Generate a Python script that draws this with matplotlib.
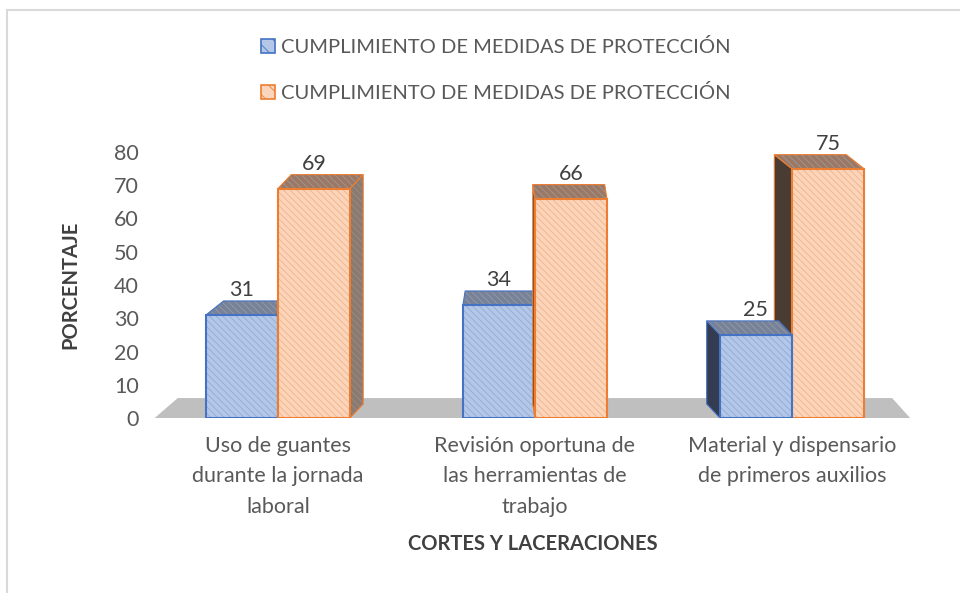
import matplotlib.pyplot as plt
from matplotlib.patches import Polygon, Rectangle, Patch

plt.rcParams['font.family'] = ['Lato', 'DejaVu Sans']
plt.rcParams['hatch.linewidth'] = 0.6

categories = ["Uso de guantes\ndurante la jornada\nlaboral",
              "Revisión oportuna de\nlas herramientas de\ntrabajo",
              "Material y dispensario\nde primeros auxilios"]
series_names = ["CUMPLIMIENTO DE MEDIDAS DE PROTECCIÓN",
                "CUMPLIMIENTO DE MEDIDAS DE PROTECCIÓN"]
blue_vals = [31, 34, 25]
orange_vals = [69, 66, 75]
yticks = [0, 10, 20, 30, 40, 50, 60, 70, 80]

text_col = "#595959"
# front fill, hatch colour, edge colour, top face, right side, left side
styles = [
    dict(fill="#b4c7e7", hatch="#8eaadb", edge="#4472c4",
         top="#76829b", right="#6d7890", left="#333c50"),
    dict(fill="#fbd5bb", hatch="#f4b183", edge="#ed7d31",
         top="#9c7864", right="#8a7a70", left="#4a3c33"),
]

W = 0.28        # bar width
DEPTH = 4.2     # depth shift (y units)
VP = 1.0        # vanishing point (x units)
K = 0.06
HATCH = "\\\\\\\\\\"


def face(ax, pts, fc, hc, ec, lw=1.0):
    ax.add_patch(Polygon(pts, closed=True, facecolor=fc, edgecolor=hc,
                         hatch=HATCH, linewidth=0))
    ax.add_patch(Polygon(pts, closed=True, facecolor="none", edgecolor=ec,
                         linewidth=lw))


def bar3d(ax, x0, v, st):
    x1 = x0 + W
    dx = -K * ((x0 + x1) / 2 - VP)
    dy = DEPTH
    if dx > 0:
        side = [(x1, 0), (x1, v), (x1 + dx, v + dy), (x1 + dx, dy)]
        face(ax, side, st["right"], "#9a8c84", st["edge"], 0.8)
    elif dx < 0:
        side = [(x0, 0), (x0, v), (x0 + dx, v + dy), (x0 + dx, dy)]
        face(ax, side, st["left"], st["left"], st["edge"], 0.8)
    top = [(x0, v), (x1, v), (x1 + dx, v + dy), (x0 + dx, v + dy)]
    face(ax, top, st["top"], "#9a9a9a", st["edge"], 0.8)
    front = [(x0, 0), (x1, 0), (x1, v), (x0, v)]
    face(ax, front, st["fill"], st["hatch"], st["edge"], 1.5)


fig = plt.figure(figsize=(9.6, 5.93), dpi=100)
fig.patches.append(Rectangle((7 / 960, -0.1), 1.2, 1.1 - 10 / 593,
                             transform=fig.transFigure, facecolor="none",
                             edgecolor="#d9d9d9", linewidth=1.5))

ax = fig.add_axes([150 / 960, (593 - 418) / 593, 765 / 960, 266 / 593])
ax.set_xlim(-0.498, 2.479)
ax.set_ylim(0, 80)
for s in ax.spines.values():
    s.set_visible(False)

# floor
n = len(categories)
ax.add_patch(Polygon([(-0.48, 0), (n - 1 + 0.46, 0), (n - 1 + 0.39, 6),
                      (-0.39, 6)], closed=True, facecolor="#bfbfbf",
                     edgecolor="none", clip_on=False))

for i in range(n):
    bars = [(i - W, blue_vals[i], styles[0]), (i, orange_vals[i], styles[1])]
    if i > VP:
        bars = bars[::-1]
    for x0, v, st in bars:
        bar3d(ax, x0, v, st)
    for x0, v in [(i - W, blue_vals[i]), (i, orange_vals[i])]:
        ax.text(x0 + W / 2, v + 7.5, str(v), ha="center", va="center",
                fontsize=15.5, color="#404040")

ax.set_yticks(yticks)
ax.set_yticklabels([str(t) for t in yticks], fontsize=15.5, color=text_col)
ax.set_xticks(range(n))
ax.set_xticklabels(categories, fontsize=15.5, color=text_col, linespacing=1.65)
ax.tick_params(length=0, axis="y", pad=8)
ax.tick_params(length=0, axis="x", pad=13)
ax.set_ylabel("PORCENTAJE", fontsize=14.5, fontweight="bold",
              color="#404040", labelpad=24)
ax.set_xlabel("CORTES Y LACERACIONES", fontsize=14.5, fontweight="bold",
              color="#404040", labelpad=12)

handles = [Patch(facecolor=st["fill"], edgecolor=st["edge"],
                 hatch="\\\\", linewidth=1.2) for st in styles]
leg = fig.legend(handles, series_names, loc="center", ncol=1, frameon=False,
                 fontsize=14.5, labelcolor=text_col,
                 handlelength=0.7, handleheight=0.7, handletextpad=0.3,
                 labelspacing=1.4)
leg.set_bbox_to_anchor((0.5 + 16 / 960, 1 - 70 / 593), transform=fig.transFigure)

fig.savefig("out.png", dpi=100)
